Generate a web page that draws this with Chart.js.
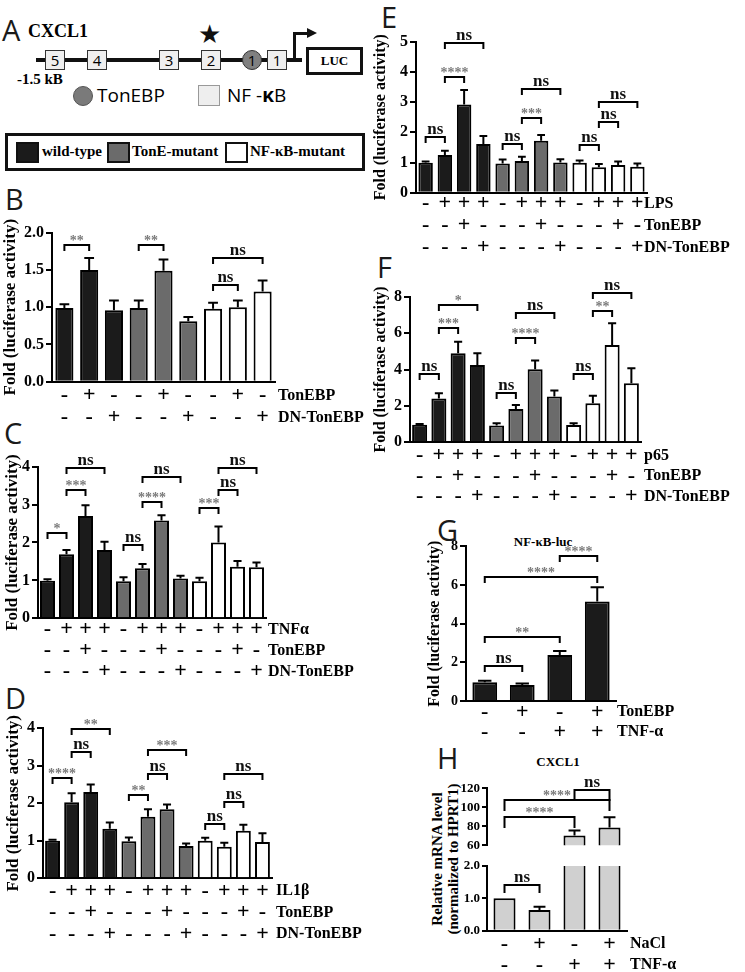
<!DOCTYPE html>
<html lang="en">
<head>
<meta charset="UTF-8">
<title>CXCL1 reporter assays</title>
<script src="https://cdn.jsdelivr.net/npm/chart.js"></script>
<style>
  body { margin: 0; background: #fff; }
  #page { position: relative; width: 745px; height: 972px; overflow: hidden; color: #000;
          font-family: "Liberation Serif", "Times New Roman", serif; }
  #page canvas { position: absolute; }
  .abs { position: absolute; white-space: nowrap; }
  .letter { font-family: "Open Sans", sans-serif; font-size: 29px; line-height: 29px; color: #1a1a1a; }
  .b { font-weight: bold; }
  .site { position: absolute; box-sizing: border-box; width: 20px; height: 20px; top: 50px;
          border: 1px solid #333; background: #efefef; text-align: center;
          font: 15px/18px "Open Sans", sans-serif; }
  .sw { position: absolute; box-sizing: border-box; top: 142px; width: 23px; height: 21px; border: 2px solid #111; }
  .lg { position: absolute; top: 144px; font-weight: bold; font-size: 15px; line-height: 15px; }
</style>
</head>
<body>
<div id="page">
  <!-- panel A: promoter scheme -->
  <div class="abs letter" style="left:2px;top:15px">A</div>
  <div class="abs b" style="left:28px;top:22px;font-size:18px;line-height:18px">CXCL1</div>
  <div class="abs" style="left:36px;top:58px;width:266px;height:4px;background:#111"></div>
  <div class="site" style="left:45px">5</div>
  <div class="site" style="left:87px">4</div>
  <div class="site" style="left:159px">3</div>
  <div class="site" style="left:201px">2</div>
  <div class="site" style="left:242px;border-radius:50%;background:#808080">1</div>
  <div class="site" style="left:267px">1</div>
  <div class="abs" style="left:198px;top:21px;font-family:'DejaVu Sans';font-size:26px;line-height:26px;color:#111">★</div>
  <div class="abs" style="left:293px;top:33px;width:3px;height:27px;background:#111"></div>
  <div class="abs" style="left:293px;top:32px;width:15px;height:3px;background:#111"></div>
  <div class="abs" style="left:307px;top:28px;width:0;height:0;border-left:10px solid #111;border-top:5.5px solid transparent;border-bottom:5.5px solid transparent"></div>
  <div class="abs b" style="left:306px;top:47px;width:57px;height:28px;box-sizing:border-box;border:3px solid #111;text-align:center;font-size:13px;line-height:22px">LUC</div>
  <div class="abs b" style="left:17px;top:72px;font-size:15px;line-height:15px">-1.5 kB</div>
  <div class="abs" style="left:73px;top:86px;width:20px;height:20px;box-sizing:border-box;border-radius:50%;background:#7a7a7a;border:1px solid #555"></div>
  <div class="abs" style="left:97px;top:86px;font-family:'Open Sans',sans-serif;font-size:19px;line-height:19px">TonEBP</div>
  <div class="abs" style="left:198px;top:85px;width:22px;height:21px;box-sizing:border-box;background:#eee;border:1px solid #999"></div>
  <div class="abs" style="left:227px;top:86px;font-family:'Open Sans',sans-serif;font-size:19px;line-height:19px">NF -<b>κ</b>B</div>
  <div class="abs" style="left:5px;top:133px;width:360px;height:38px;box-sizing:border-box;border:3px solid #111"></div>
  <div class="sw" style="left:16px;background:#1b1b1b"></div>
  <div class="lg" style="left:42px">wild-type</div>
  <div class="sw" style="left:107px;background:#6b6b6b"></div>
  <div class="lg" style="left:132px">TonE-mutant</div>
  <div class="sw" style="left:225px;background:#fff"></div>
  <div class="lg" style="left:250px">NF-κB-mutant</div>

  <div class="abs letter" style="left:5px;top:184px">B</div>
  <div class="abs letter" style="left:4px;top:418px">C</div>
  <div class="abs letter" style="left:5px;top:683px">D</div>
  <div class="abs letter" style="left:381px;top:2px">E</div>
  <div class="abs letter" style="left:377px;top:252px">F</div>
  <div class="abs letter" style="left:437px;top:515px">G</div>
  <div class="abs letter" style="left:437px;top:743px">H</div>
  <div class="abs b" style="left:543px;top:535px;transform:translateX(-50%);font-size:13px;line-height:13px">NF-κB-luc</div>
  <div class="abs b" style="left:558px;top:755px;transform:translateX(-50%);font-size:13px;line-height:13px">CXCL1</div>
  <div class="abs b" style="left:445px;top:859px;transform:translate(-50%,-50%) rotate(-90deg);text-align:center;font-size:15px;line-height:16px">Relative mRNA level<br>(normalized to HPRT1)</div>

  <canvas id="chartB"></canvas>
  <canvas id="chartC"></canvas>
  <canvas id="chartD"></canvas>
  <canvas id="chartE"></canvas>
  <canvas id="chartF"></canvas>
  <canvas id="chartG"></canvas>
  <canvas id="chartHtop"></canvas>
  <canvas id="chartHlow"></canvas>
</div>
<script>
const SERIF = '"Liberation Serif", "Times New Roman", serif';
const GROUP_FILL = ['#1b1b1b', '#6b6b6b', '#ffffff'];
const Y_TITLE = 'Fold (luciferase activity)';

Chart.defaults.font.family = SERIF;
Chart.defaults.font.weight = 'bold';
Chart.defaults.font.size = 16;
Chart.defaults.color = '#000';

// +/- rows shared by the 12-bar panels (C to F)
const stim12   = ['-', '+', '+', '+', '-', '+', '+', '+', '-', '+', '+', '+'];
const tonebp12 = ['-', '-', '+', '-', '-', '-', '+', '-', '-', '-', '+', '-'];
const dn12     = ['-', '-', '-', '+', '-', '-', '-', '+', '-', '-', '-', '+'];

// B - TonEBP / DN-TonEBP alone
const bTonEBP = ['-', '+', '-', '-', '+', '-', '-', '+', '-'];
const bDN     = ['-', '-', '+', '-', '-', '+', '-', '-', '+'];
const bFold = [0.99, 1.50, 0.96, 0.99, 1.49, 0.81, 0.98, 1.00, 1.21];
const bSem  = [0.05, 0.16, 0.13, 0.10, 0.15, 0.06, 0.08, 0.09, 0.15];
const bStats = [[0, 1, 1.83, '**'], [3, 4, 1.83, '**'], [6, 7, 1.30, 'ns'], [6, 8, 1.66, 'ns']];

// C - TNFa
const cFold = [0.99, 1.69, 2.70, 1.80, 0.98, 1.32, 2.58, 1.05, 0.98, 2.00, 1.36, 1.35];
const cSem  = [0.04, 0.11, 0.28, 0.22, 0.10, 0.11, 0.14, 0.07, 0.09, 0.42, 0.15, 0.12];
const cStats = [[0, 1, 2.24, '*'], [1, 2, 3.38, '***'], [1, 3, 3.96, 'ns'],
                [4, 5, 1.93, 'ns'], [5, 6, 3.08, '****'], [5, 7, 3.74, 'ns'],
                [8, 9, 2.90, '***'], [9, 10, 3.38, 'ns'], [9, 11, 3.96, 'ns']];

// D - IL1b
const dFold = [1.00, 2.03, 2.30, 1.32, 0.99, 1.64, 1.84, 0.86, 1.00, 0.84, 1.27, 0.97];
const dSem  = [0.03, 0.24, 0.20, 0.17, 0.10, 0.20, 0.13, 0.07, 0.08, 0.11, 0.16, 0.23];
const dStats = [[0, 1, 2.68, '****'], [1, 2, 3.38, 'ns'], [1, 3, 3.97, '**'],
                [4, 5, 2.22, '**'], [5, 6, 2.78, 'ns'], [5, 7, 3.42, '***'],
                [8, 9, 1.45, 'ns'], [9, 10, 2.04, 'ns'], [9, 11, 2.78, 'ns']];

// E - LPS
const eFold = [0.99, 1.25, 2.92, 1.61, 0.97, 1.05, 1.72, 1.00, 0.99, 0.84, 0.92, 0.86];
const eSem  = [0.04, 0.14, 0.48, 0.27, 0.13, 0.14, 0.19, 0.11, 0.08, 0.11, 0.11, 0.11];
const eStats = [[0, 1, 1.85, 'ns'], [1, 2, 3.84, '****'], [1, 3, 4.97, 'ns'],
                [4, 5, 1.61, 'ns'], [5, 6, 2.49, '***'], [5, 7, 3.45, 'ns'],
                [8, 9, 1.58, 'ns'], [9, 10, 2.33, 'ns'], [9, 11, 2.99, 'ns']];

// F - p65
const fFold = [0.97, 2.40, 4.89, 4.25, 0.92, 1.83, 4.01, 2.51, 0.95, 2.14, 5.35, 3.24];
const fSem  = [0.03, 0.29, 0.64, 0.64, 0.12, 0.22, 0.48, 0.33, 0.09, 0.42, 1.19, 0.83];
const fStats = [[0, 1, 3.74, 'ns'], [1, 2, 6.26, '***'], [1, 3, 7.55, '*'],
                [4, 5, 2.69, 'ns'], [5, 6, 5.71, '****'], [5, 7, 7.12, 'ns'],
                [8, 9, 3.75, 'ns'], [9, 10, 7.23, '**'], [9, 11, 8.22, 'ns']];

// G - NF-kB-luc
const gTonEBP = ['-', '+', '-', '+'];
const gTNF    = ['-', '-', '+', '+'];
const gFold = [0.97, 0.83, 2.38, 5.14];
const gSem  = [0.08, 0.08, 0.21, 0.74];
const gStats = [[0, 1, 1.81, 'ns'], [0, 2, 3.29, '**'], [0, 3, 6.43, '****'], [2, 3, 7.50, '****']];

// H - CXCL1 mRNA (broken axis)
const hNaCl = ['-', '+', '-', '+'];
const hTNF  = ['-', '-', '+', '+'];
const hLevel = [1.00, 0.64, 70.2, 78.6];
const hSem   = [0, 0.10, 5.3, 10.9];
const hStatsLow  = [[0, 1, 1.41, 'ns']];
const hStatsHigh = [[0, 2, 89.8, '****'], [0, 3, 107.5, '****'], [2, 3, 118.4, 'ns']];

function zipRows(...rows) {
  return rows[0].map((_, i) => rows.map(r => r[i]));
}

function groupFills(values, size) {
  return values.map((_, i) => GROUP_FILL[Math.floor(i / size)]);
}

// error bars, significance brackets and row names
function extras(p) {
  return {
    id: 'extras',
    afterDatasetsDraw(chart) {
      const ctx = chart.ctx, xs = chart.scales.x, ys = chart.scales.y, area = chart.chartArea;
      const bars = chart.getDatasetMeta(0).data;
      ctx.save();
      ctx.strokeStyle = '#000';
      ctx.lineWidth = 2;

      ctx.save();
      ctx.beginPath();
      ctx.rect(area.left, area.top - 2, area.right - area.left, area.bottom - area.top + 2);
      ctx.clip();
      p.sem.forEach((e, i) => {
        if (!e) return;
        const bx = bars[i].x, half = bars[i].width * 0.27;
        const y0 = ys.getPixelForValue(p.values[i]), y1 = ys.getPixelForValue(p.values[i] + e);
        ctx.beginPath();
        ctx.moveTo(bx, y0); ctx.lineTo(bx, y1);
        ctx.moveTo(bx - half, y1); ctx.lineTo(bx + half, y1);
        ctx.stroke();
      });
      ctx.restore();

      const leg = p.leg || 6;
      (p.stats || []).forEach(([a, b, v, txt]) => {
        const xa = bars[a].x, xb = bars[b].x, yy = Math.round(ys.getPixelForValue(v));
        ctx.beginPath();
        ctx.moveTo(xa, yy + leg); ctx.lineTo(xa, yy); ctx.lineTo(xb, yy); ctx.lineTo(xb, yy + leg);
        ctx.stroke();
        const star = txt.indexOf('*') >= 0;
        ctx.font = 'bold ' + (star ? 14 : 17) + 'px ' + SERIF;
        ctx.fillStyle = star ? '#7a7a7a' : '#111';
        ctx.textAlign = 'center';
        ctx.textBaseline = 'alphabetic';
        ctx.fillText(txt, (xa + xb) / 2, yy - (star ? 0 : 3));
      });

      if (p.rows) {
        ctx.font = 'bold 16px ' + SERIF;
        ctx.fillStyle = '#000';
        ctx.textAlign = 'left';
        ctx.textBaseline = 'middle';
        p.rows.forEach((name, i) => {
          ctx.fillText(name, xs.right + p.rowGap, xs.top + p.rowPad + p.rowH / 2 + i * p.rowH);
        });
      }
      ctx.restore();
    }
  };
}

function drawPanel(id, p) {
  const cv = document.getElementById(id);
  cv.width = p.w;
  cv.height = p.h;
  cv.style.left = p.left + 'px';
  cv.style.top = p.top + 'px';
  const showX = !!p.rows;
  new Chart(cv, {
    type: 'bar',
    data: {
      labels: p.labels,
      datasets: [{
        data: p.values,
        backgroundColor: p.fills,
        borderColor: '#000',
        borderWidth: 2,
        borderSkipped: 'start',
        barPercentage: p.barPct,
        categoryPercentage: 1,
        clip: p.clip
      }]
    },
    options: {
      responsive: false,
      animation: false,
      devicePixelRatio: 1,
      events: [],
      layout: {
        padding: {
          left: 0,
          right: p.left + p.w - p.axisR,
          top: p.yTop - p.top,
          bottom: showX ? 0 : p.top + p.h - p.yBot
        }
      },
      plugins: { legend: { display: false }, tooltip: { enabled: false } },
      scales: {
        x: {
          display: showX,
          border: { display: true, color: '#000', width: 2 },
          grid: { display: false, drawTicks: false },
          ticks: {
            color: '#000', padding: p.rowPad, autoSkip: false, maxRotation: 0, minRotation: 0,
            font: { family: SERIF, size: 22, weight: 'bold', lineHeight: p.rowH + 'px' }
          },
          afterFit: s => { s.height = p.top + p.h - p.yBot; }
        },
        y: {
          min: p.min || 0,
          max: p.max,
          border: { display: true, color: '#000', width: 2 },
          grid: { drawOnChartArea: false, drawTicks: true, tickLength: p.tickLen || 6, color: '#000', lineWidth: 2 },
          ticks: {
            stepSize: p.step, color: '#000', padding: 2,
            font: { family: SERIF, size: p.tickSize || 16, weight: 'bold' },
            callback: v => p.decimals ? v.toFixed(p.decimals) : v
          },
          title: p.title ? {
            display: true, text: p.title, color: '#000',
            font: { family: SERIF, size: p.titleSize || 17, weight: 'bold', lineHeight: 1.2 },
            padding: { top: p.titlePad || 0, bottom: 0 }
          } : { display: false },
          afterFit: s => { s.width = p.axisL - p.left; }
        }
      }
    },
    plugins: [extras(p)]
  });
}

drawPanel('chartB', {
  left: 0, top: 180, w: 370, h: 250, axisL: 52, axisR: 275, yTop: 232.7, yBot: 381.7,
  max: 2, step: 0.5, decimals: 1, title: Y_TITLE, titlePad: 0,
  labels: zipRows(bTonEBP, bDN), values: bFold, sem: bSem, stats: bStats, fills: groupFills(bFold, 3),
  barPct: 0.73, rows: ['TonEBP', 'DN-TonEBP'], rowH: 22, rowPad: 3, rowGap: 3
});

drawPanel('chartC', {
  left: 0, top: 440, w: 370, h: 245, axisL: 38, axisR: 266, yTop: 466.7, yBot: 618.3,
  max: 4, step: 1, title: Y_TITLE, titlePad: 2,
  labels: zipRows(stim12, tonebp12, dn12), values: cFold, sem: cSem, stats: cStats, fills: groupFills(cFold, 4),
  barPct: 0.79, rows: ['TNFα', 'TonEBP', 'DN-TonEBP'], rowH: 21, rowPad: 1, rowGap: 2
});

drawPanel('chartD', {
  left: 0, top: 700, w: 370, h: 265, axisL: 43, axisR: 272, yTop: 728.3, yBot: 878.3,
  max: 4, step: 1, title: Y_TITLE, titlePad: 3,
  labels: zipRows(stim12, tonebp12, dn12), values: dFold, sem: dSem, stats: dStats, fills: groupFills(dFold, 4),
  barPct: 0.78, rows: ['IL1β', 'TonEBP', 'DN-TonEBP'], rowH: 21.5, rowPad: 2, rowGap: 4
});

drawPanel('chartE', {
  left: 370, top: 20, w: 375, h: 245, axisL: 416, axisR: 647, yTop: 41.7, yBot: 192.7,
  max: 5, step: 1, title: Y_TITLE, titleSize: 16, titlePad: 1.4,
  labels: zipRows(stim12, tonebp12, dn12), values: eFold, sem: eSem, stats: eStats, fills: groupFills(eFold, 4),
  barPct: 0.75, rows: ['LPS', 'TonEBP', 'DN-TonEBP'], rowH: 22, rowPad: 0, rowGap: -3
});

drawPanel('chartF', {
  left: 370, top: 270, w: 375, h: 240, axisL: 410, axisR: 641, yTop: 296.7, yBot: 442.3,
  max: 8, step: 2, title: Y_TITLE, titleSize: 16, titlePad: 1.4,
  labels: zipRows(stim12, tonebp12, dn12), values: fFold, sem: fSem, stats: fStats, fills: groupFills(fFold, 4),
  barPct: 0.78, rows: ['p65', 'TonEBP', 'DN-TonEBP'], rowH: 20.5, rowPad: 3, rowGap: 3
});

drawPanel('chartG', {
  left: 370, top: 530, w: 375, h: 215, axisL: 466, axisR: 616, yTop: 546.3, yBot: 701,
  max: 8, step: 2, tickSize: 14, title: Y_TITLE, titleSize: 16, titlePad: 55,
  labels: zipRows(gTonEBP, gTNF), values: gFold, sem: gSem, stats: gStats, fills: gFold.map(() => '#1b1b1b'),
  barPct: 0.66, rows: ['TonEBP', 'TNF-α'], rowH: 20, rowPad: 1, rowGap: 1
});

drawPanel('chartHtop', {
  left: 370, top: 765, w: 375, h: 90, axisL: 487, axisR: 627, yTop: 788.3, yBot: 852.7,
  min: 60, max: 120, step: 20, tickSize: 13, tickLen: 5,
  labels: zipRows(hNaCl, hTNF), values: hLevel, sem: hSem, stats: hStatsHigh, fills: hLevel.map(() => '#d0d0d0'),
  barPct: 0.63, clip: 0, leg: 11
});

drawPanel('chartHlow', {
  left: 370, top: 850, w: 375, h: 122, axisL: 487, axisR: 627, yTop: 866, yBot: 930.7,
  max: 2, step: 0.5, decimals: 1, tickSize: 13, tickLen: 5,
  labels: zipRows(hNaCl, hTNF), values: hLevel, sem: hSem, stats: hStatsLow, fills: hLevel.map(() => '#d0d0d0'),
  barPct: 0.63, clip: 0, leg: 8, rows: ['NaCl', 'TNF-α'], rowH: 21, rowPad: 3, rowGap: 3
});
</script>
</body>
</html>
